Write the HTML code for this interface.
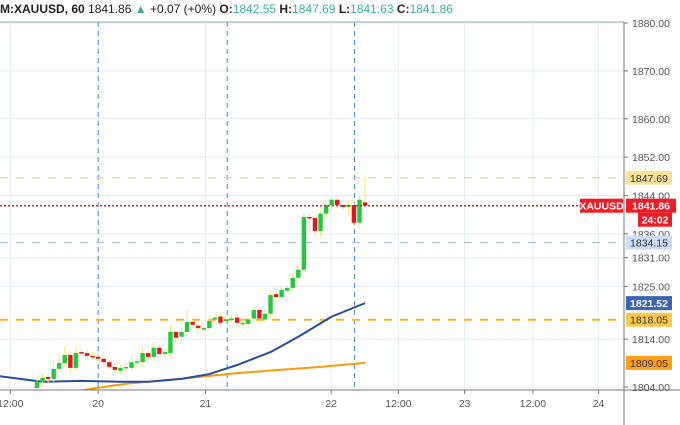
<!DOCTYPE html>
<html><head><meta charset="utf-8">
<style>
body{margin:0;background:#fff;width:680px;height:425px;overflow:hidden;font-family:"Liberation Sans",sans-serif}
#hdr{position:absolute;left:0;top:2px;font-size:12px;color:#222;white-space:nowrap}
#hdr b{font-weight:bold}
.t{color:#3aae9c}
</style></head><body>
<div id="hdr"><b>M:XAUUSD, 60</b> 1841.86 <span class="t">▲</span> +0.07 (+0%) <b>O:</b><span class="t">1842.55</span> <b>H:</b><span class="t">1847.69</span> <b>L:</b><span class="t">1841.63</span> <b>C:</b><span class="t">1841.86</span></div>
<svg id="c" width="680" height="425" style="position:absolute;left:0;top:0"></svg>
<script>
const opens=[1803.8,1805.1,1806.1,1805.7,1807.8,1809.0,1810.7,1808.0,1811.3,1811.1,1810.5,1810.3,1809.9,1809.2,1808.2,1807.4,1808.0,1808.0,1809.2,1809.2,1811.1,1810.3,1812.2,1810.9,1811.1,1815.5,1814.5,1815.5,1817.6,1816.8,1816.3,1816.3,1818.1,1818.7,1818.1,1818.1,1818.5,1817.2,1817.2,1818.3,1820.1,1818.1,1819.3,1823.4,1822.8,1824.1,1824.7,1826.8,1828.5,1839.5,1839.3,1836.6,1840.2,1842.0,1843.1,1842.0,1841.6,1842.0,1838.3,1842.55];
const closes=[1805.1,1805.9,1805.7,1807.8,1809.0,1810.7,1808.0,1811.1,1811.1,1810.5,1810.3,1809.9,1809.2,1808.2,1807.6,1808.0,1808.2,1809.2,1809.4,1811.1,1810.3,1812.2,1810.9,1811.3,1815.5,1814.3,1815.5,1817.6,1817.0,1816.3,1816.3,1817.8,1818.5,1817.4,1818.1,1818.3,1817.4,1817.4,1818.1,1820.1,1818.3,1819.3,1823.2,1822.8,1824.3,1824.7,1826.8,1828.5,1839.5,1839.3,1836.6,1840.2,1842.0,1843.1,1842.0,1841.6,1842.0,1838.3,1843.1,1841.86];
const highs=[1805.8,1807.0,1806.8,1809.5,1810.8,1812.5,1811.4,1812.6,1812.0,1811.8,1811.2,1810.9,1810.5,1809.8,1809.0,1808.6,1809.0,1810.4,1810.0,1812.3,1811.6,1813.4,1812.9,1812.0,1817.0,1815.4,1816.4,1820.2,1818.0,1817.3,1816.9,1818.8,1819.3,1819.4,1818.9,1819.0,1819.4,1818.2,1818.9,1820.8,1820.6,1820.2,1823.9,1823.8,1825.0,1825.3,1827.6,1829.4,1840.3,1840.1,1839.8,1840.9,1842.6,1843.6,1843.7,1842.4,1842.8,1842.7,1843.8,1847.69];
const lows=[1803.0,1804.2,1804.6,1805.1,1807.0,1808.3,1807.2,1807.3,1810.5,1810.2,1809.6,1809.1,1808.4,1807.8,1807.0,1806.6,1807.2,1807.3,1808.6,1808.2,1809.4,1809.3,1810.0,1810.2,1810.4,1813.3,1813.7,1814.6,1816.5,1815.6,1815.4,1815.7,1817.3,1816.8,1817.4,1817.5,1816.6,1816.5,1816.6,1817.6,1817.5,1817.4,1818.6,1822.0,1822.1,1823.6,1824.1,1826.1,1827.9,1836.3,1835.6,1835.4,1839.0,1841.2,1841.4,1841.0,1839.7,1837.4,1837.6,1841.63];
const blueIdx=[-7,1,8,15,20,26,31,36,42,47,53,59];
const blueVal=[1806.3,1805.1,1805.3,1805.1,1805.1,1805.7,1806.7,1808.6,1811.3,1814.5,1818.7,1821.52];
const orIdx=[8,13,17,22,29,36,44,51,59];
const orVal=[1803.3,1804.2,1804.8,1805.3,1806.1,1806.9,1807.6,1808.2,1809.05];
const yTicks=[1880,1870,1860,1852,1844,1836,1831,1825,1814,1804];
const xTickLabels=["12:00","20","21","22","12:00","23","12:00","24"];
const xTickPos=[-4.8,11,30.3,52.9,65,76.9,89.2,101];
const NS='http://www.w3.org/2000/svg';
const svg=document.getElementById('c');
const R=624,B=390,T=22;
const y=p=>23+(1880-p)*4.79;
const x=i=>37+i*5.56;
function el(t,a,p){const e=document.createElementNS(NS,t);for(const k in a)e.setAttribute(k,a[k]);(p||svg).appendChild(e);return e;}
const clip=el('clipPath',{id:'cp'});el('rect',{x:0,y:T,width:R,height:B-T},clip);
const g=el('g',{'clip-path':'url(#cp)'});

yTicks.forEach(v=>{const l=el('line',{x1:0,x2:R,y1:y(v),y2:y(v),stroke:'#e6eef3'},g);});
xTickPos.forEach(i=>{const l=el('line',{x1:x(i),x2:x(i),y1:T,y2:B,stroke:'#e6eef3'},g);});
[11,34.2,57.1].forEach(i=>{const l=el('line',{x1:x(i),x2:x(i),y1:T,y2:B,stroke:'#4a86d0','stroke-dasharray':'5,4','stroke-width':1},g);});
function hl(v,c,d,w,n){const l=el('line',{x1:0,x2:R,y1:y(v),y2:y(v),stroke:c,'stroke-dasharray':d,'stroke-width':w},g);}
hl(1847.69,'#f7d57a','8,8',1.2,'high-level-line');
hl(1834.15,'#a9c4ec','8,8',1.2,'support-level-line');
hl(1818.05,'#f2b62a','8,8',2,'pivot-level-line');
function ma(ix,vs,c,n){const p=el('polyline',{points:ix.map((i,k)=>x(i)+','+y(vs[k])).join(' '),fill:'none',stroke:c,'stroke-width':2,'stroke-linejoin':'round'},g);}
ma(orIdx,orVal,'#f39c12','ma-slow-line');
ma(blueIdx,blueVal,'#2a4d9a','ma-fast-line');
opens.forEach((o,i)=>{const c=closes[i];const up=c>=o;const cx=x(i);
const w=el('line',{x1:cx,x2:cx,y1:y(highs[i]),y2:y(lows[i]),stroke:'#f5e96a','stroke-width':1},g);

const top=y(Math.max(o,c)),bot=y(Math.min(o,c));
const r=el('rect',{x:cx-2.2,y:top,width:4.4,height:Math.max(1.5,bot-top),fill:up?'#22c93a':'#e5151c'},g);
});
hl(1841.86,'#d0282e','2,2',1.5,'last-price-line');
el('line',{x1:0,x2:R,y1:T,y2:T,stroke:'#9aa'});
el('line',{x1:R,x2:R,y1:T,y2:425,stroke:'#777'});
el('line',{x1:0,x2:680,y1:B,y2:B,stroke:'#777'});
yTicks.forEach(v=>{el('line',{x1:R,x2:R+4,y1:y(v),y2:y(v),stroke:'#777'});const t=el('text',{x:632,y:y(v)+4,'font-size':10.5,fill:'#555','font-family':'Liberation Sans'});t.textContent=v.toFixed(2);});
xTickLabels.forEach((s,k)=>{const t=el('text',{x:x(xTickPos[k]),y:407,'font-size':10.5,fill:'#555','text-anchor':'middle','font-family':'Liberation Sans'});t.textContent=s;el('line',{x1:x(xTickPos[k]),x2:x(xTickPos[k]),y1:B,y2:B+4,stroke:'#777'});});
function tag(v,bg,fg,n,txt,x0,w,dy){const yy=y(v)+(dy||0);el('rect',{x:x0,y:yy-7,width:w,height:14,fill:bg});const t=el('text',{x:x0+w/2,y:yy+4,'font-size':10.5,fill:fg,'text-anchor':'middle','font-family':'Liberation Sans','font-weight':fg=='#fff'?'bold':'normal'});t.textContent=txt;}
tag(1847.69,'#fbe29a','#333','high-price-tag','1847.69',626,46);
tag(1841.86,'#ee1c25','#fff','symbol-tag','XAUUSD',580,43);
tag(1841.86,'#ee1c25','#fff','last-price-tag','1841.86',626,50);
tag(1841.86,'#ee1c25','#fff','countdown-tag','24:02',638,34,14);
tag(1834.15,'#cddcf6','#333','support-price-tag','1834.15',626,46);
tag(1821.52,'#3a64b8','#fff','ma-fast-tag','1821.52',626,46);
tag(1818.05,'#fdc94a','#333','pivot-price-tag','1818.05',626,46);
tag(1809.05,'#ff9f1a','#333','ma-slow-tag','1809.05',626,46);
</script>
</body></html>
